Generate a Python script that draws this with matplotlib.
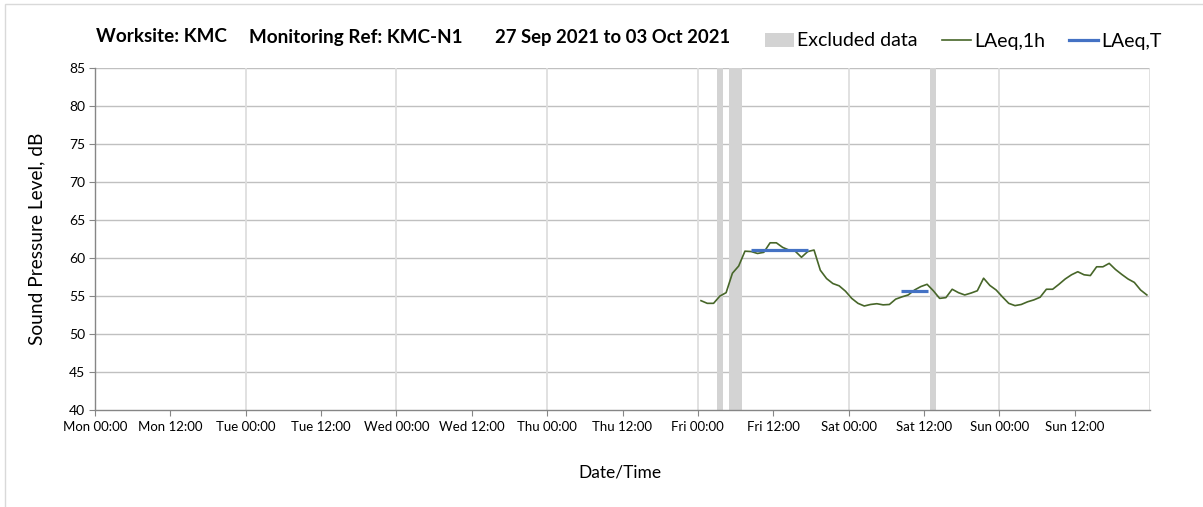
import numpy as np
import matplotlib
matplotlib.use("Agg")
import matplotlib.pyplot as plt
from matplotlib.patches import Patch, Rectangle
from matplotlib.lines import Line2D

plt.rcParams['font.family'] = ['Lato', 'DejaVu Sans']

# ---- data ----
hour_start = list(range(96, 168))  # hours since Mon 00:00
laeq_1h = [54.4, 54.05, 54.05, 55.0, 55.45, 58.0, 58.95, 60.9, 60.85, 60.6,
           60.75, 62.0, 62.0, 61.4, 61.05, 60.9, 60.1, 60.85, 61.05, 58.4,
           57.3, 56.65, 56.35, 55.65, 54.7, 54.05, 53.7, 53.9, 54.0, 53.85,
           53.9, 54.6, 54.9, 55.15, 55.8, 56.25, 56.55, 55.7, 54.7, 54.8,
           55.9, 55.45, 55.15, 55.4, 55.7, 57.35, 56.4, 55.8, 54.9, 54.05,
           53.75, 53.9, 54.25, 54.5, 54.85, 55.9, 55.9, 56.55, 57.25, 57.8,
           58.2, 57.8, 57.7, 58.85, 58.85, 59.3, 58.5, 57.85, 57.25, 56.8,
           55.8, 55.15]
excluded_start = [99, 101, 133]
excluded_end = [100, 103, 134]
laeqT_start = [104.4, 128.4]
laeqT_end = [113.5, 132.6]
laeqT_value = [61.1, 55.7]
day_names = ['Mon', 'Tue', 'Wed', 'Thu', 'Fri', 'Sat', 'Sun']
tick_labels = [f"{d} {t}" for d in day_names for t in ('00:00', '12:00')]

W, H = 1203, 507
fig = plt.figure(figsize=(W / 100, H / 100), dpi=100)
ax = fig.add_axes([95 / W, 1 - 410.3 / H, (1150 - 95) / W, (410.3 - 67.7) / H])

# chart border
fig.patches.append(Rectangle((5 / W, -0.1), 1.2, 1 - 4 / H + 0.1, transform=fig.transFigure,
                             fill=False, edgecolor='#d9d9d9', lw=1.0, zorder=0))

for s, e in zip(excluded_start, excluded_end):
    ax.axvspan(s, e, color='#d3d3d3', lw=0, zorder=1)

x = np.array(hour_start) + 0.5
ax.plot(x, laeq_1h, color='#476629', lw=1.2, zorder=3)
for s, e, v in zip(laeqT_start, laeqT_end, laeqT_value):
    ax.plot([s, e], [v, v], color='#4472c4', lw=2.3, solid_capstyle='butt', zorder=4)

ax.set_xlim(0, 168)
ax.set_ylim(40, 85)
ax.set_yticks(np.arange(40, 86, 5))
ax.set_xticks(np.arange(0, 168, 12))
ax.set_xticklabels(tick_labels, fontsize=9.5)
ax.tick_params(axis='y', labelsize=10, length=4, width=0.8, color='#868686', pad=3)
ax.tick_params(axis='x', length=4, width=0.8, color='#868686', pad=4)

# gridlines
for yv in np.arange(45, 86, 5):
    ax.axhline(yv, color='#c0c0c0', lw=1.0, zorder=0.5)
for xv in np.arange(24, 169, 24):
    ax.axvline(xv, color='#dedede', lw=1.3, zorder=0.5)

for sp in ['top', 'right']:
    ax.spines[sp].set_visible(False)
for sp in ['left', 'bottom']:
    ax.spines[sp].set_color('#868686')
    ax.spines[sp].set_linewidth(1.0)

ax.set_ylabel('Sound Pressure Level, dB', fontsize=13.8)
ax.yaxis.set_label_coords((45 - 95) / 1055, 0.5)
fig.text(620 / W, 1 - 473 / H, 'Date/Time', fontsize=12.5, ha='center', va='center')

# title
ty = 1 - 37 / H
fig.text(95.6 / W, ty, 'Worksite: KMC', fontsize=13.6, fontweight='bold', ha='left', va='center')
fig.text(249 / W, ty, 'Monitoring Ref: KMC-N1', fontsize=13.6, fontweight='bold', ha='left', va='center')
fig.text(495 / W, ty, '27 Sep 2021 to 03 Oct 2021', fontsize=13.3, fontweight='bold', ha='left', va='center')

handles = [Patch(facecolor='#d3d3d3', edgecolor='none', label='Excluded data'),
           Line2D([], [], color='#476629', lw=1.2, label='LAeq,1h'),
           Line2D([], [], color='#4472c4', lw=2.3, label='LAeq,T')]
fig.legend(handles=handles, loc='center left', bbox_to_anchor=(765 / W, 1 - 41 / H),
           ncol=3, frameon=False, fontsize=14, handlelength=1.5, handletextpad=0.15,
           columnspacing=1.25, borderpad=0, borderaxespad=0)

fig.savefig('out.png', dpi=100)
